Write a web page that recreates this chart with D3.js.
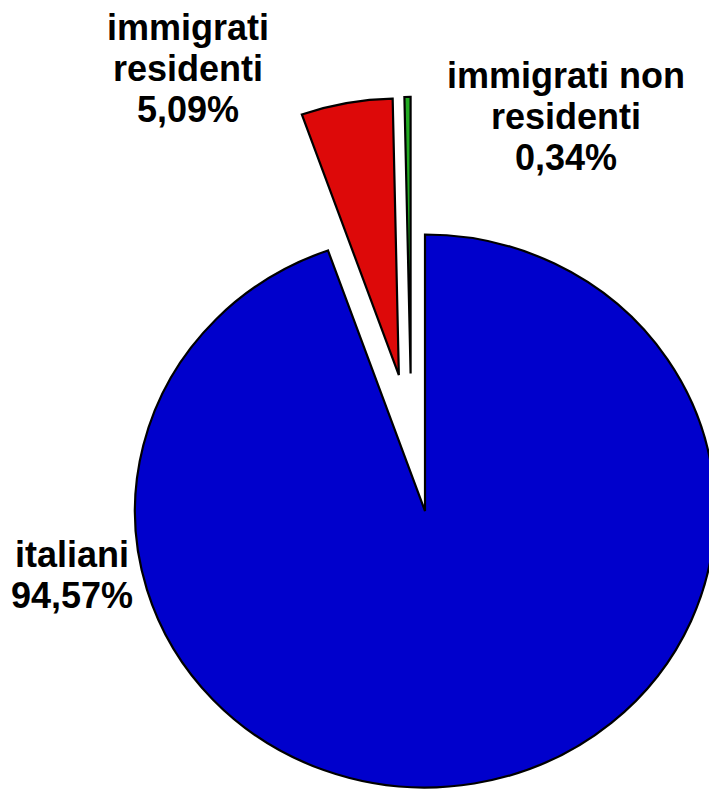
<!DOCTYPE html>
<html>
<head>
<meta charset="utf-8">
<script src="https://cdn.jsdelivr.net/npm/d3@7"></script>
<style>
  html, body { margin: 0; padding: 0; background: #fff; }
  svg { display: block; }
  text { font-family: "Liberation Sans", Arial, sans-serif; font-weight: bold; fill: #000; }
</style>
</head>
<body>
<svg id="chart" width="709" height="789"></svg>
<script>
// Population shares (percent)
const categories = ["italiani", "immigrati residenti", "immigrati non residenti"];
const values = [94.57, 5.09, 0.34];
const valueLabels = ["94,57%", "5,09%", "0,34%"];
const labelLines = [["italiani"], ["immigrati", "residenti"], ["immigrati non", "residenti"]];

// Styling
const colors = ["#0000CC", "#DD0909", "#22AA22"];
const explode = [0, 0.5, 0.5];          // pull-out as a fraction of the radius
const pullAngle = [null, null, -5.7];   // optional pull direction override (degrees)

const W = 709, H = 789;
const cx = 425, cy = 511;
const rx = 290, ry = 276.5;
const R = 100; // unit radius before elliptical scaling

const svg = d3.select("#chart");

const pie = d3.pie().sort(null).value(d => d).startAngle(0).endAngle(2 * Math.PI);
const arcs = pie(values);

const arc = d3.arc().innerRadius(0).outerRadius(R);

// scale from the unit circle to the elliptical pie
const sx = d3.scaleLinear().domain([-R, R]).range([-rx, rx]);
const sy = d3.scaleLinear().domain([-R, R]).range([-ry, ry]);

const g = svg.append("g");

g.selectAll("path.slice")
  .data(arcs)
  .join("path")
  .attr("class", "slice")
  .attr("d", arc)
  .attr("fill", (d, i) => colors[i])
  .attr("stroke", "#000")
  .attr("stroke-width", 2.2)
  .attr("stroke-linejoin", "miter")
  .attr("vector-effect", "non-scaling-stroke")
  .attr("transform", (d, i) => {
    const mid = (d.startAngle + d.endAngle) / 2;
    const a = pullAngle[i] == null ? mid : pullAngle[i] * Math.PI / 180;
    const dxu = Math.sin(a) * explode[i] * R;
    const dyu = -Math.cos(a) * explode[i] * R;
    const tx = cx + sx(dxu);
    const ty = cy + sy(dyu);
    return `translate(${tx},${ty}) scale(${rx / R},${ry / R})`;
  });

// Labels
const fontSize = 36;
const lineH = 41;
const labelPos = [
  { x: 72, y: 567 },
  { x: 188, y: 40 },
  { x: 566, y: 88 }
];

labelLines.forEach((lines, i) => {
  const all = lines.concat([valueLabels[i]]);
  const t = svg.append("text")
    .attr("text-anchor", "middle")
    .attr("font-size", fontSize);
  all.forEach((s, k) => {
    t.append("tspan")
      .attr("x", labelPos[i].x)
      .attr("y", labelPos[i].y + k * lineH)
      .text(s);
  });
});
</script>
</body>
</html>
